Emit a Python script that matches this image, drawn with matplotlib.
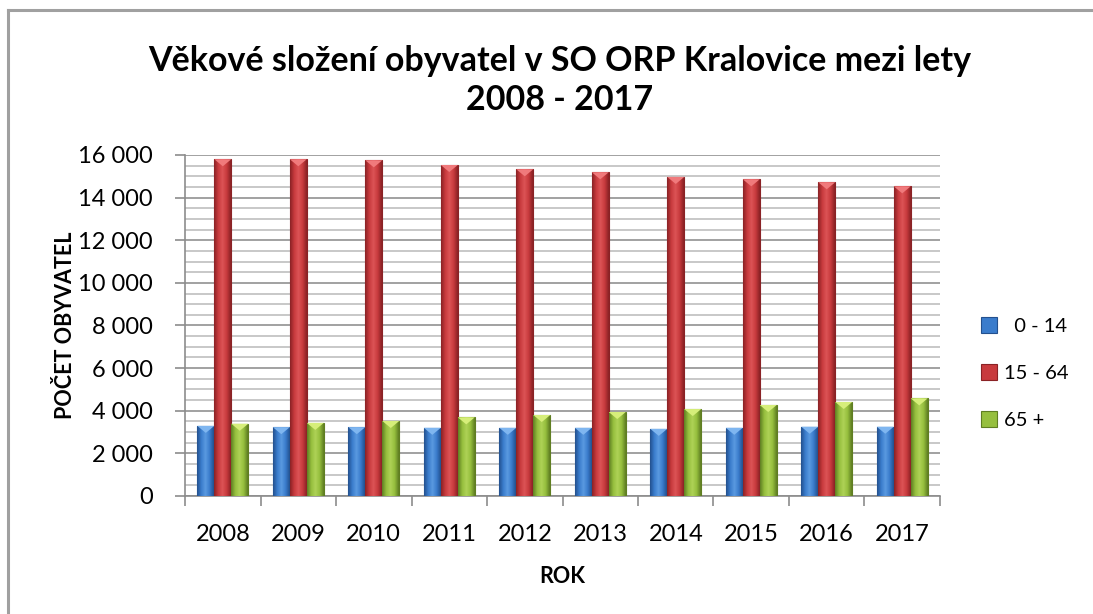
import numpy as np
import matplotlib.pyplot as plt
from matplotlib.ticker import MultipleLocator, FuncFormatter
from matplotlib.lines import Line2D
from matplotlib.colors import LinearSegmentedColormap

plt.rcParams['font.family'] = ['Lato', 'DejaVu Sans']

roky = ['2008', '2009', '2010', '2011', '2012', '2013', '2014', '2015', '2016', '2017']
deti = [3290, 3230, 3230, 3200, 3200, 3200, 3150, 3200, 3250, 3250]
produktivni = [15800, 15800, 15750, 15530, 15330, 15190, 14970, 14860, 14720, 14530]
seniori = [3390, 3430, 3520, 3690, 3800, 3940, 4080, 4270, 4410, 4580]
popisky = ['  0 - 14', '15 - 64', '65 +']

barvy = ['#3a7ccc', '#c83a3d', '#96bf3e']
tmave = ['#23508e', '#8a2225', '#5f7e22']
svetle = ['#5a9ae0', '#dc5456', '#aed256']
vrsek = ['#7fb6f0', '#f07a7c', '#d6ee7a']

fig = plt.figure(figsize=(10.93, 6.14), dpi=100)
ax = fig.add_axes([0.1693, 0.1922, 0.6907, 0.5554])

x = np.arange(len(roky))
w = 0.225
gradient = np.linspace(0, 1, 64).reshape(1, -1)
for i, (data, popis) in enumerate(zip([deti, produktivni, seniori], popisky)):
    bary = ax.bar(x + (i - 1) * w, data, w, color=barvy[i], edgecolor=tmave[i],
                  linewidth=0.8, label=popis, zorder=3)
    cmap = LinearSegmentedColormap.from_list('g%d' % i,
                                             [tmave[i], barvy[i], svetle[i], barvy[i], tmave[i]])
    for b in bary:
        x0, x1, h = b.get_x(), b.get_x() + b.get_width(), b.get_height()
        im = ax.imshow(gradient, cmap=cmap, aspect='auto', zorder=3.5, extent=[x0, x1, 0, h])
        im.set_clip_path(b)
        # svetlejsi zkoseni nahore
        ax.fill([x0, x1, (x0 + x1) / 2], [h, h, h - 330], color=vrsek[i], zorder=3.6, linewidth=0)

ax.set_xlim(-0.5, len(roky) - 0.5)
ax.set_ylim(0, 16000)
ax.yaxis.set_major_locator(MultipleLocator(2000))
ax.yaxis.set_minor_locator(MultipleLocator(500))
ax.yaxis.set_major_formatter(FuncFormatter(lambda v, p: f"{int(v):,}".replace(",", " ")))
ax.grid(which='major', axis='y', color='#9a9a9a', linewidth=1.3, zorder=0)
ax.grid(which='minor', axis='y', color='#c4c4c4', linewidth=1.3, zorder=0)
ax.set_axisbelow(True)

ax.set_xticks(x)
ax.set_xticklabels(roky)
ax.set_xticks(np.arange(-0.5, len(roky)), minor=True)
ax.tick_params(axis='x', which='major', length=0, labelsize=17, pad=20)
ax.tick_params(axis='x', which='minor', length=7, color='#8c8c8c', width=1.2)
ax.tick_params(axis='y', which='major', length=7, color='#8c8c8c', width=1.2, labelsize=17, pad=16)
ax.tick_params(axis='y', which='minor', length=0)

for s in ['top', 'right']:
    ax.spines[s].set_visible(False)
for s in ['left', 'bottom']:
    ax.spines[s].set_color('#8c8c8c')
    ax.spines[s].set_linewidth(1.2)

# popisky os - pevna poloha jako v predloze
ylab = ax.set_ylabel('POČET OBYVATEL', fontsize=15.5, fontweight='bold')
ylab.set_rotation_mode('default')
ylab.set_verticalalignment('center')
ax.yaxis.set_label_coords(-0.159, 0.5)
ax.set_xlabel('ROK', fontsize=15.5, fontweight='bold')
ax.xaxis.set_label_coords(0.5, -0.205)

fig.text(0.512, 0.869, 'Věkové složení obyvatel v SO ORP Kralovice mezi lety\n2008 - 2017',
         ha='center', va='center', fontsize=24.5, fontweight='bold', linespacing=1.3)

ax.legend(loc='center left', bbox_to_anchor=(1.03, 0.36), frameon=False, fontsize=14.5,
          handlelength=0.8, handleheight=0.8, handletextpad=0.35, labelspacing=1.45)

# okraj grafu (vlevo a nahoře)
fig.add_artist(Line2D([0.0075, 0.0075], [0, 0.983], color='#a0a0a0', linewidth=2.2))
fig.add_artist(Line2D([0.0075, 1.0], [0.983, 0.983], color='#a0a0a0', linewidth=2.2))

fig.savefig('out.png', dpi=100)
